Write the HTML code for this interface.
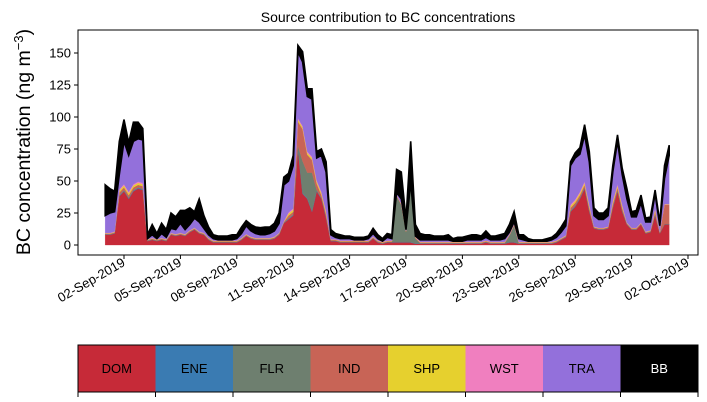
<!DOCTYPE html>
<html><head><meta charset="utf-8"><style>
body{margin:0;background:#fff}
svg{display:block;font-family:"Liberation Sans","DejaVu Sans",sans-serif}
</style></head><body>
<svg id="chart" width="707" height="402" viewBox="0 0 707 402" xmlns="http://www.w3.org/2000/svg">
<rect width="707" height="402" fill="#fff"/>
<text x="388" y="22" font-size="14" text-anchor="middle">Source contribution to BC concentrations</text>
<text transform="translate(30,142) rotate(-90)" font-size="19.5" text-anchor="middle">BC concentration (ng m<tspan baseline-shift="super" font-size="13">−3</tspan>)</text>
<g id="areas"></g>
<g id="yaxis"></g>
<g id="xaxis"></g>
<rect x="78" y="30" width="620" height="225" fill="none" stroke="#000" stroke-width="1"/>
<g id="legend"></g>
</svg>
<script>
const sourceNames=["DOM","ENE","FLR","IND","SHP","WST","TRA","BB"];
const sourceColors=["#c62a38","#3a7bb2","#6e7f6f","#c86456","#e6d02e","#f07fbf","#9370db","#000000"];
const yTicks=[0,25,50,75,100,125,150];
const xTickLabels=["02-Sep-2019","05-Sep-2019","08-Sep-2019","11-Sep-2019","14-Sep-2019","17-Sep-2019","20-Sep-2019","23-Sep-2019","26-Sep-2019","29-Sep-2019","02-Oct-2019"];
const xTickDays=[1,4,7,10,13,16,19,22,25,28,31];
const stepDays=0.25;
const dom=[8,8,9,38,42,36,42,44,43,3,
4,3,4,3,8,7,8,7,10,12,
9,8,4,2,2,2,2,2,2,4,
7,5,4,4,4,4,5,8,17,20,
23,75,40,36,26,42,36,21,3,3,
2,2,2,2,2,2,2,5,2,1,
2,2,2,2,2,2,1,1,1,1,
1,1,1,1,1,1,1,1,1,1,
1,2,1,1,1,1,2,2,1,1,
1,1,1,1,1,1,2,4,6,26,
30,36,44,26,13,12,12,13,29,42,
26,16,12,12,16,9,10,23,9,16,16];
const ene=[.2,.2,.2,.5,.5,.5,.5,.5,.5,.2,
.2,.2,.2,.2,.2,.2,.2,.2,.2,.2,
.2,.2,.2,.2,.2,.2,.2,.2,.2,.2,
.2,.2,.2,.2,.2,.2,.2,.2,.2,.5,
.5,.5,.5,.5,.5,.5,.5,.5,.2,.2,
.2,.2,.2,.2,.2,.2,.2,.2,.2,.2,
.2,.2,.2,.2,.2,.2,.2,.2,.2,.2,
.2,.2,.2,.2,.2,.2,.2,.2,.2,.2,
.2,.2,.2,.2,.2,.2,.2,.2,.2,.2,
.2,.2,.2,.2,.2,.2,.2,.2,.2,.5,
.5,.5,.5,.5,.2,.2,.2,.2,.5,.5,
.5,.2,.2,.2,.2,.2,.2,.5,.2,.2,.2];
const flr=[.2,.2,.2,.5,.5,.5,.5,.5,.5,.2,
.2,.2,.2,.2,.2,.2,.2,.2,.2,.2,
.2,.2,.2,.2,.2,.2,.2,.2,.2,.2,
.2,.2,.2,.2,.2,.2,.2,.2,.2,.5,
.5,2,25,20,30,.5,.5,.5,.2,.2,
.2,.2,.2,.2,.2,.2,.2,.2,.2,.2,
.2,.2,36,29,8,45,4,.2,.2,.2,
.2,.2,.2,.2,.2,.2,.2,.2,.2,.2,
.2,.2,.2,.2,.2,.2,5,13,.2,.2,
.2,.2,.2,.2,.2,.2,.2,.2,.2,.5,
.5,.5,.5,.5,.2,.2,.2,.2,.5,.5,
.5,.2,.2,.2,.2,.2,.2,.5,.2,.2,.2];
const ind=[.5,.5,.5,2,2,2,2,2,2,.5,
.5,.5,.5,.5,.5,.5,.5,.5,.5,.5,
.5,.5,.5,.5,.5,.5,.5,.5,.5,.5,
.5,.5,.5,.5,.5,.5,.5,.5,.5,2,
2,19,25,14,10,5,2,2,.5,.5,
.5,.5,.5,.5,.5,.5,.5,.5,.5,.5,
.5,.5,.5,.5,.5,.5,.5,.5,.5,.5,
.5,.5,.5,.5,.5,.5,.5,.5,.5,.5,
.5,.5,.5,.5,.5,.5,.5,.5,.5,.5,
.5,.5,.5,.5,.5,.5,.5,.5,.5,2,
2,2,2,2,.5,.5,.5,.5,2,2,
2,.5,.5,.5,.5,.5,.5,2,.5,15,15];
const shp=[.3,.3,.3,1.5,1.5,1.5,1.5,1.5,1.5,.3,
.3,.3,.3,.3,.3,.3,.3,.3,.3,.3,
.3,.3,.3,.3,.3,.3,.3,.3,.3,.3,
.3,.3,.3,.3,.3,.3,.3,.3,.3,1.5,
1.5,1.5,1.5,1.5,1.5,1.5,1.5,1.5,.3,.3,
.3,.3,.3,.3,.3,.3,.3,.3,.3,.3,
.3,.3,.3,.3,.3,.3,.3,.3,.3,.3,
.3,.3,.3,.3,.3,.3,.3,.3,.3,.3,
.3,.3,.3,.3,.3,.3,.3,.3,.3,.3,
.3,.3,.3,.3,.3,.3,.3,.3,.3,1.5,
1.5,1.5,1.5,1.5,.3,.3,.3,.3,1.5,1.5,
1.5,.3,.3,.3,.3,.3,.3,1.5,.3,.3,.3];
const wst=[.3,.3,.3,1,1,1,1,1,1,.3,
.3,.3,.3,.3,.3,.3,.3,.3,.3,.3,
.3,.3,.3,.3,.3,.3,.3,.3,.3,.3,
.3,.3,.3,.3,.3,.3,.3,.3,.3,1,
1,1,1,1,1,1,1,1,.3,.3,
.3,.3,.3,.3,.3,.3,.3,.3,.3,.3,
.3,.3,.3,.3,.3,.3,.3,.3,.3,.3,
.3,.3,.3,.3,.3,.3,.3,.3,.3,.3,
.3,.3,.3,.3,.3,.3,.3,.3,.3,.3,
.3,.3,.3,.3,.3,.3,.3,.3,.3,1,
1,1,1,1,.3,.3,.3,.3,1,1,
1,.3,.3,.3,.3,.3,.3,1,.3,.3,.3];
const tra=[13.5,15.5,15.5,11.5,33.5,28.5,33.5,33.5,33.5,.5,
2.5,.5,3.5,1.5,3.5,3.5,7.5,3.5,4.5,7.5,
7.5,3.5,2.5,1.5,.5,.5,.5,.5,1.5,3.5,
6.5,4.5,3.5,2.5,2.5,3.5,4.5,7.5,28.5,24.5,
33.5,52,50,43,45,17.5,28.5,30.5,3.5,1.5,
1.5,1.5,1.5,.5,.5,.5,1.5,2.5,1.5,.5,
2.5,1.5,1.7,3.7,.7,.7,.7,1.5,1.5,1.5,
1.5,1.5,1.5,1.5,.5,.5,.5,1.5,1.5,1.5,
1.5,2.5,1.5,1.5,1.5,2.5,1.7,1.7,2.5,1.5,
.5,.5,.5,.5,.5,1.5,2.5,4.5,7.5,30.5,
32.5,29.5,36.5,33.5,8.5,6.5,6.5,8.5,22.5,33.5,
23.5,18.5,8.5,8.5,15.5,7.5,6.5,11.5,4.5,20,38];
const bb=[24,19,16,26,17,10,15,13,9,3,
8,4,8,6,12,10,10,15,13,5,
18,10,6,3,3,3,3,4,3,5,
4,5,5,5.5,6,5,6,8,6,6,
8,5,8,6,8,5,5,8,4,3,
3,2,2,2,2,2,2,4,3,2,
3,3,18,21,8,32,9,5,4,4,
3,3,3,4,2,3,3,3,4,4,
3,5,3,3,4,4,6,8,3,4,
2,1,1,1,2,2,3,4,5,3,
4,5,8,8,6,5,5,6,5,5,
5,8,4,5,6,3,4,3,3,10,8];
const series=[dom,ene,flr,ind,shp,wst,tra,bb];

const NS="http://www.w3.org/2000/svg";
function xScale(day){return 105.2+18.8*day;}
function yScale(v){return 245-1.28*v;}
function mk(tag,attrs,parent){const e=document.createElementNS(NS,tag);for(const k in attrs)e.setAttribute(k,attrs[k]);parent.appendChild(e);return e;}

const areas=document.getElementById('areas');
const n=dom.length;
let base=new Array(n).fill(0);
series.forEach((s,si)=>{
  const top=base.map((b,i)=>b+s[i]);
  let d="";
  for(let i=0;i<n;i++)d+=(i?"L":"M")+xScale(i*stepDays).toFixed(2)+","+yScale(top[i]).toFixed(2);
  for(let i=n-1;i>=0;i--)d+="L"+xScale(i*stepDays).toFixed(2)+","+yScale(base[i]).toFixed(2);
  d+="Z";
  const p=mk('path',{d:d,fill:sourceColors[si],stroke:sourceColors[si],'stroke-width':si===7?1.6:0.3},areas);
  
  
  base=top;
});

const ya=document.getElementById('yaxis');
yTicks.forEach(t=>{
  const y=yScale(t);
  const l=mk('line',{x1:74,x2:78,y1:y,y2:y,stroke:'#000'},ya);
  
  
  const tx=mk('text',{x:71,y:y+4.5,'font-size':13,'text-anchor':'end'},ya);
  tx.textContent=t;
  
  
});

const xa=document.getElementById('xaxis');
xTickDays.forEach((d,i)=>{
  const x=xScale(d);
  const l=mk('line',{x1:x,x2:x,y1:255,y2:259,stroke:'#000'},xa);
  
  
  const tx=mk('text',{transform:'translate('+(x+2)+',265) rotate(-30)','font-size':13,'text-anchor':'end'},xa);
  tx.textContent=xTickLabels[i];
  
  
});

const lg=document.getElementById('legend');
const lw=620/8;
sourceNames.forEach((nm,i)=>{
  const x=78+i*lw;
  const r=mk('rect',{x:x,y:345,width:lw+0.5,height:47,fill:sourceColors[i]},lg);
  
  
  const t=mk('text',{x:x+lw/2,y:373,'font-size':13,'text-anchor':'middle',fill:nm==='BB'?'#fff':'#000'},lg);
  t.textContent=nm;
  
  
});
for(let i=0;i<=8;i++){
  const x=78+i*lw;
  const l=mk('line',{x1:x,x2:x,y1:392,y2:397,stroke:'#000'},lg);
  
  
}
const fr=mk('rect',{x:78,y:345,width:620,height:47,fill:'none',stroke:'#000'},lg);


</script>
</body></html>
